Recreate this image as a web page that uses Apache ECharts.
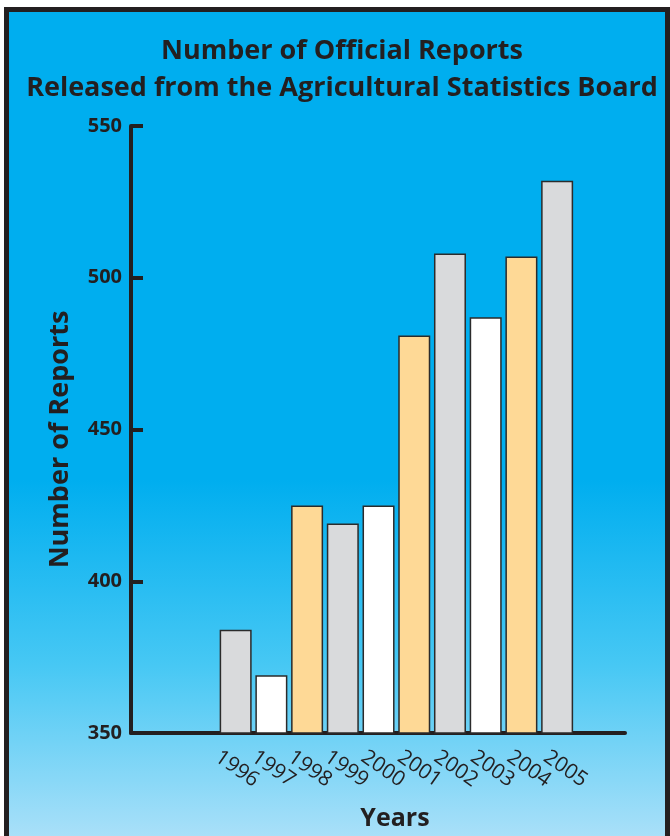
<!DOCTYPE html>
<html>
<head>
<meta charset="utf-8">
<script src="https://cdn.jsdelivr.net/npm/echarts@6/dist/echarts.min.js"></script>
<style>
html,body{margin:0;padding:0;background:#fff;}
#chart{width:670px;height:836px;}
</style>
</head>
<body>
<div id="chart"></div>
<script>
const titleText = 'Number of Official Reports\nReleased from the Agricultural Statistics Board';
const years = [1996, 1997, 1998, 1999, 2000, 2001, 2002, 2003, 2004, 2005];
const reports = [384, 369, 425, 419, 425, 481, 508, 487, 507, 532];
const barColors = ['#d9dadc', '#ffffff', '#fed996'];
const yTicks = [350, 400, 450, 500, 550];
const xName = 'Years';
const yName = 'Number of Reports';

const ink = '#231f20';
const font = '"Open Sans", "Noto Sans", sans-serif';

const chart = echarts.init(document.getElementById('chart'), null, {renderer: 'canvas'});

const option = {
  backgroundColor: '#ffffff',
  animation: false,
  graphic: [{
    type: 'rect',
    z: -10,
    silent: true,
    shape: {x: 6.5, y: 9.5, width: 661, height: 840},
    style: {
      fill: new echarts.graphic.LinearGradient(0, 0, 0, 1, [
        {offset: 0, color: '#00aeef'},
        {offset: 0.56, color: '#00aeef'},
        {offset: 0.78, color: '#47c8f4'},
        {offset: 1, color: '#b2e2f9'}
      ]),
      stroke: ink,
      lineWidth: 5
    }
  }],
  title: {
    text: titleText,
    left: 337,
    top: 28,
    textAlign: 'center',
    textStyle: {
      fontFamily: font,
      fontSize: 27,
      fontWeight: 'bold',
      color: ink,
      lineHeight: 37
    }
  },
  grid: [
    {left: 131, right: 45, top: 126, bottom: 93},
    {left: 199, right: 106, top: 126, bottom: 93}
  ],
  xAxis: [{
    type: 'value',
    gridIndex: 0,
    min: years[0] - 2.93,
    max: years[0] - 2.93 + 13.83,
    name: xName,
    nameLocation: 'middle',
    nameGap: 73,
    nameTextStyle: {fontFamily: font, fontSize: 25, fontWeight: 'bold', color: ink, padding: [0, 0, 0, 34]},
    axisLine: {show: true, onZero: false, lineStyle: {color: ink, width: 4}},
    axisTick: {show: false},
    splitLine: {show: false},
    axisLabel: {show: false}
  }, {
    type: 'category',
    gridIndex: 1,
    data: years.map(String),
    axisLine: {show: false},
    axisTick: {show: false},
    splitLine: {show: false},
    axisLabel: {
      interval: 0,
      rotate: -35,
      margin: 12,
      fontFamily: font,
      fontSize: 21,
      color: ink
    }
  }],
  yAxis: [{
    type: 'value',
    gridIndex: 0,
    min: yTicks[0],
    max: yTicks[yTicks.length - 1],
    interval: 50,
    name: yName,
    nameLocation: 'middle',
    nameRotate: 90,
    nameGap: 57,
    nameTextStyle: {fontFamily: font, fontSize: 27, fontWeight: 'bold', color: ink, padding: [0, 20, 0, 0]},
    axisLine: {show: true, lineStyle: {color: ink, width: 4}},
    axisTick: {show: true, inside: true, length: 12, lineStyle: {color: ink, width: 4}},
    splitLine: {show: false},
    axisLabel: {margin: 9, fontFamily: font, fontSize: 20, fontWeight: 'bold', color: ink}
  }, {
    type: 'value',
    gridIndex: 1,
    show: false
  }],
  series: [{
    type: 'bar',
    xAxisIndex: 0,
    yAxisIndex: 0,
    barWidth: 32,
    data: years.map((y, i) => ({
      value: [y, reports[i]],
      itemStyle: {color: barColors[i % 3]}
    })),
    itemStyle: {borderColor: '#2b2b2b', borderWidth: 1.5},
    z: 1
  }]
};
chart.setOption(option);
</script>
</body>
</html>
